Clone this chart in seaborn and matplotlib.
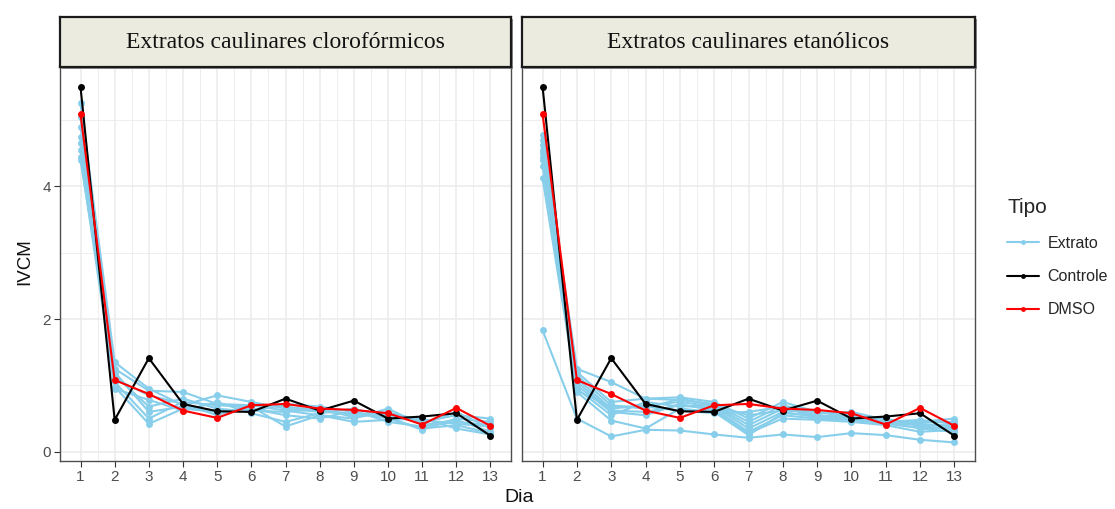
import numpy as np
import pandas as pd
import matplotlib
matplotlib.use("Agg")
import matplotlib.pyplot as plt
import seaborn as sns
from matplotlib.lines import Line2D

# ---------------- data ----------------
dias = list(range(1, 14))
panels = ["Extratos caulinares clorofórmicos", "Extratos caulinares etanólicos"]

controle = [5.50, 0.48, 1.41, 0.72, 0.61, 0.60, 0.80, 0.62, 0.77, 0.50, 0.53, 0.58, 0.24]
dmso     = [5.09, 1.08, 0.87, 0.62, 0.51, 0.70, 0.72, 0.65, 0.63, 0.58, 0.41, 0.66, 0.39]

# clorofórmicos extract series
clo_e1 = [5.25, 1.35, 0.95, 0.70, 0.85, 0.75, 0.65, 0.60, 0.58, 0.55, 0.45, 0.55, 0.50]
clo_e2 = [5.05, 1.25, 0.92, 0.90, 0.72, 0.70, 0.62, 0.55, 0.50, 0.65, 0.40, 0.48, 0.30]
clo_e3 = [4.90, 1.15, 0.68, 0.80, 0.65, 0.60, 0.72, 0.68, 0.60, 0.50, 0.35, 0.40, 0.28]
clo_e4 = [4.75, 1.05, 0.50, 0.75, 0.70, 0.68, 0.38, 0.55, 0.45, 0.48, 0.50, 0.35, 0.26]
clo_e5 = [4.65, 0.98, 0.42, 0.65, 0.60, 0.65, 0.55, 0.50, 0.62, 0.45, 0.38, 0.45, 0.40]
clo_e6 = [4.55, 1.10, 0.85, 0.72, 0.55, 0.72, 0.68, 0.62, 0.55, 0.60, 0.42, 0.60, 0.35]
clo_e7 = [4.45, 0.95, 0.78, 0.62, 0.75, 0.58, 0.45, 0.58, 0.65, 0.52, 0.33, 0.50, 0.45]
clo_e8 = [4.40, 1.20, 0.60, 0.68, 0.62, 0.62, 0.60, 0.65, 0.52, 0.58, 0.48, 0.42, 0.38]

# etanólicos extract series
eta_e1  = [4.78, 1.25, 1.05, 0.80, 0.82, 0.75, 0.50, 0.75, 0.60, 0.55, 0.45, 0.45, 0.50]
eta_e2  = [4.70, 1.20, 0.75, 0.80, 0.78, 0.72, 0.45, 0.70, 0.58, 0.60, 0.48, 0.40, 0.40]
eta_e3  = [4.62, 1.15, 0.70, 0.65, 0.80, 0.70, 0.40, 0.65, 0.55, 0.52, 0.50, 0.38, 0.35]
eta_e4  = [4.55, 1.10, 0.65, 0.70, 0.75, 0.68, 0.35, 0.60, 0.52, 0.50, 0.45, 0.35, 0.30]
eta_e5  = [4.45, 1.05, 0.62, 0.60, 0.70, 0.65, 0.30, 0.55, 0.50, 0.48, 0.42, 0.42, 0.38]
eta_e6  = [4.40, 1.00, 0.60, 0.55, 0.72, 0.62, 0.28, 0.50, 0.48, 0.45, 0.40, 0.30, 0.33]
eta_e7  = [4.30, 0.95, 0.55, 0.75, 0.68, 0.70, 0.55, 0.62, 0.60, 0.52, 0.45, 0.48, 0.42]
eta_e8  = [4.12, 0.90, 0.47, 0.35, 0.65, 0.60, 0.25, 0.58, 0.55, 0.50, 0.42, 0.36, 0.36]
eta_e9  = [4.50, 0.92, 0.68, 0.68, 0.62, 0.58, 0.60, 0.68, 0.52, 0.55, 0.44, 0.44, 0.45]
eta_e10 = [1.83, 0.50, 0.23, 0.33, 0.32, 0.26, 0.21, 0.26, 0.22, 0.28, 0.25, 0.18, 0.14]

clo_extratos = [clo_e1, clo_e2, clo_e3, clo_e4, clo_e5, clo_e6, clo_e7, clo_e8]
eta_extratos = [eta_e1, eta_e2, eta_e3, eta_e4, eta_e5, eta_e6, eta_e7, eta_e8, eta_e9, eta_e10]

tipos = ["Extrato", "Controle", "DMSO"]
cores = {"Extrato": "#87CEEB", "Controle": "#000000", "DMSO": "#FF0000"}

def build(extratos):
    rows = []
    for i, s in enumerate(extratos):
        for d, v in zip(dias, s):
            rows.append(("E%d" % i, "Extrato", d, v))
    for d, v in zip(dias, controle):
        rows.append(("C", "Controle", d, v))
    for d, v in zip(dias, dmso):
        rows.append(("D", "DMSO", d, v))
    return pd.DataFrame(rows, columns=["id", "Tipo", "Dia", "IVCM"])

dfs = [build(clo_extratos), build(eta_extratos)]

# ---------------- figure ----------------
sns.set_theme(style="white")
plt.rcParams["font.family"] = ["Liberation Sans", "DejaVu Sans"]

W, H = 1115, 509
fig = plt.figure(figsize=(W / 100, H / 100), dpi=100)

panel_px = [(60, 511), (522, 975)]
top_px, bot_px = 67, 461
strip_top = 17

grid_c = "#EBEBEB"
for k, (x0, x1) in enumerate(panel_px):
    ax = fig.add_axes([x0 / W, 1 - bot_px / H, (x1 - x0) / W, (bot_px - top_px) / H])
    ax.set_xlim(0.4, 13.6)
    ax.set_ylim(-0.14, 5.8)
    ax.set_xticks(dias)
    ax.set_xticks(np.arange(1.5, 13, 1), minor=True)
    ax.set_yticks([0, 2, 4])
    ax.set_yticks([1, 3, 5], minor=True)
    ax.grid(True, which="major", color=grid_c, linewidth=1.1)
    ax.grid(True, which="minor", color=grid_c, linewidth=0.6)
    ax.set_axisbelow(True)
    for sp in ax.spines.values():
        sp.set_color("#4D4D4D")
        sp.set_linewidth(1.0)

    sns.lineplot(data=dfs[k], x="Dia", y="IVCM", hue="Tipo", hue_order=tipos,
                 palette=cores, units="id", estimator=None, marker="o",
                 markersize=5, markeredgewidth=0, linewidth=1.5,
                 legend=False, ax=ax)

    ax.tick_params(axis="both", which="major", direction="out", length=4.5,
                   width=0.8, color="#333333", labelcolor="#4D4D4D",
                   labelsize=11, pad=2, bottom=True, left=(k == 0))
    ax.tick_params(axis="both", which="minor", length=0)
    if k == 1:
        ax.set_yticklabels([])
    ax.set_xlabel("")
    ax.set_ylabel("")

    # facet strip with a slight shadow
    shadow = fig.add_axes([(x0 + 2) / W, 1 - (top_px + 2) / H, (x1 - x0) / W,
                           (top_px - strip_top) / H])
    shadow.set_facecolor("#8C8C8C")
    shadow.set_xticks([]); shadow.set_yticks([])
    for sp in shadow.spines.values():
        sp.set_visible(False)
    sax = fig.add_axes([x0 / W, 1 - top_px / H, (x1 - x0) / W, (top_px - strip_top) / H])
    sax.set_facecolor("#ECEBE0")
    sax.set_xticks([]); sax.set_yticks([])
    for sp in sax.spines.values():
        sp.set_color("#1A1A1A")
        sp.set_linewidth(1.6)
    sax.text(0.5, 0.5, panels[k], ha="center", va="center",
             fontfamily="Liberation Serif", fontsize=17, color="#111111",
             transform=sax.transAxes)

fig.text(519 / W, 1 - 497 / H, "Dia", ha="center", va="center", fontsize=14, color="#111111")
fig.text(25 / W, 1 - 262 / H, "IVCM", ha="center", va="center", rotation=90,
         fontsize=13.5, color="#111111")

handles = [Line2D([0], [0], color=cores[t], marker="o", markersize=3.5,
                  markeredgewidth=0, linewidth=1.5) for t in tipos]
leg = fig.legend(handles, tipos, title="Tipo", loc="upper left",
                 bbox_to_anchor=(993 / W, 1 - 184 / H), frameon=False,
                 fontsize=11.5, title_fontsize=15, handlelength=2.0,
                 handletextpad=0.5, labelspacing=1.15, alignment="left")

fig.savefig("out.png", dpi=100)
